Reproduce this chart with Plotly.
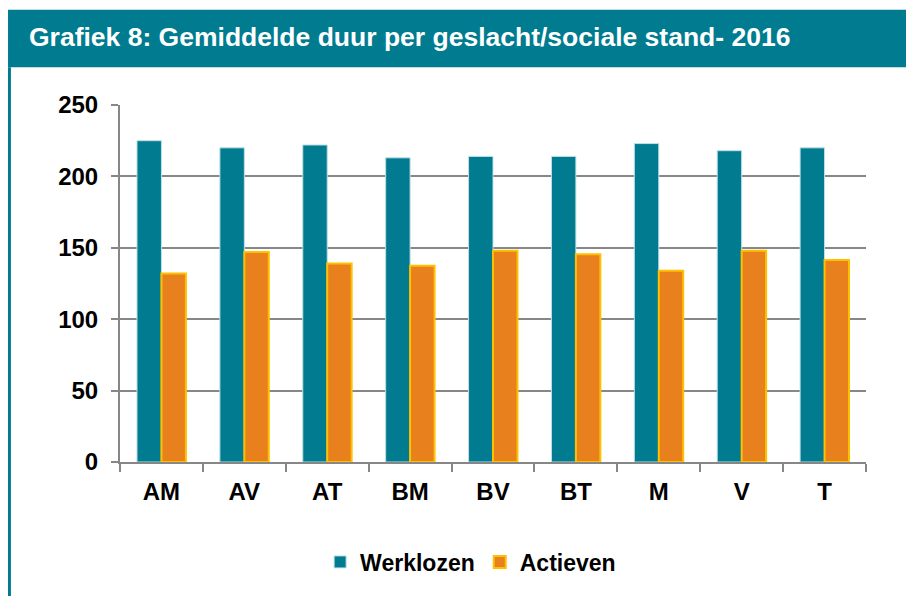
import plotly.graph_objects as go

# Data
categories = ["AM", "AV", "AT", "BM", "BV", "BT", "M", "V", "T"]
werklozen = [225, 220, 222, 213, 214, 214, 223, 218, 220]
actieven = [132, 147, 139, 137.5, 148, 145.5, 134, 148, 141.5]

teal = "#007B8F"
orange = "#E8801E"
grid = "#878787"
font = "Liberation Sans, Arial, sans-serif"

fig = go.Figure()

fig.add_trace(go.Bar(
    name="<b>Werklozen</b>",
    x=categories,
    y=werklozen,
    marker=dict(color=teal, line=dict(color="#BFE0E6", width=1)),
))
fig.add_trace(go.Bar(
    name="<b>Actieven</b>",
    x=categories,
    y=actieven,
    marker=dict(color=orange, line=dict(color="#FFC000", width=2)),
))

# header band + left border (paper coords; plot area is 746 x 362 px)
fig.add_shape(type="rect", xref="paper", yref="paper",
              x0=-0.1501, x1=1.08, y0=1.1058, y1=1.2666,
              fillcolor=teal, line=dict(width=0), layer="below")
fig.add_shape(type="line", xref="paper", yref="paper",
              x0=-0.1482, x1=-0.1482, y0=1.1058, y1=-0.4,
              line=dict(color=teal, width=3))

# page body has an 8px margin, so figure is 906 x 588
fig.update_layout(
    width=906,
    height=588,
    paper_bgcolor="white",
    plot_bgcolor="white",
    margin=dict(l=112, r=48, t=97, b=129),
    font=dict(family=font, size=24, color="black"),
    title=dict(
        text="<b>Grafiek 8: Gemiddelde duur per geslacht/sociale stand- 2016</b>",
        x=21 / 906, xanchor="left",
        y=1 - 29 / 588, yanchor="middle",
        font=dict(family=font, size=26.5, color="white"),
    ),
    barmode="group",
    bargap=0.41,
    bargroupgap=0,
    showlegend=True,
    legend=dict(
        orientation="h",
        x=0.47, xanchor="center",
        y=-0.28, yanchor="middle",
        font=dict(family=font, size=23, color="black"),
        traceorder="normal",
    ),
    xaxis=dict(
        showline=True, linecolor=grid, linewidth=2,
        ticks="outside", ticklen=8, tickwidth=2, tickcolor=grid,
        tickson="boundaries",
        tickfont=dict(family=font, size=24, color="black"),
        tickprefix="<b>", ticksuffix="</b>",
        showgrid=False,
        ticklabelstandoff=7,
    ),
    yaxis=dict(
        range=[0, 250],
        dtick=50,
        showline=True, linecolor=grid, linewidth=2,
        ticks="outside", ticklen=7, tickwidth=2, tickcolor=grid,
        showgrid=True, gridcolor=grid, gridwidth=2,
        zeroline=False,
        tickprefix="<b>", ticksuffix="</b>",
        tickfont=dict(family=font, size=24, color="black"),
        ticklabelstandoff=8,
    ),
)

fig.write_html("out.html")
